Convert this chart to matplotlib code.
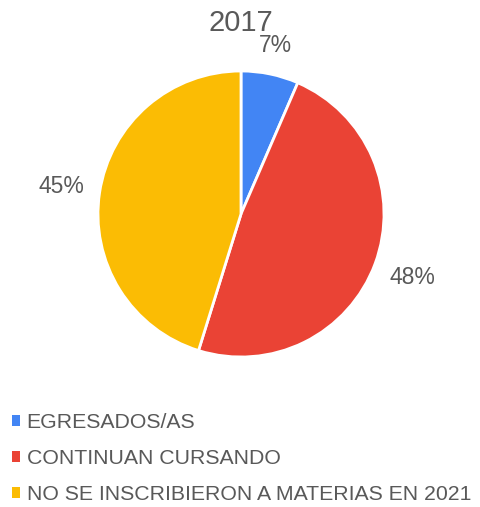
import numpy as np
import matplotlib
matplotlib.use("Agg")
import matplotlib.pyplot as plt

# data
categories = ["EGRESADOS/AS", "CONTINUAN CURSANDO", "NO SE INSCRIBIERON A MATERIAS EN 2021"]
shares = [6.5, 48.3, 45.2]
pct_labels = ["7%", "48%", "45%"]
colors = ["#4285F4", "#EA4335", "#FBBC04"]
title = "2017"

plt.rcParams['font.family'] = ['Liberation Sans', 'DejaVu Sans']
text_color = "#595959"

W, H = 480, 507
fig = plt.figure(figsize=(W / 100, H / 100), dpi=100)

# pie axes: centre at (241, 214) px from top-left, radius 143 px
cx, cy, r = 241, 214, 143
half = 200
ax = fig.add_axes([(cx - half) / W, (H - cy - half) / H, 2 * half / W, 2 * half / H])
wedges, texts = ax.pie(shares, colors=colors, startangle=90, counterclock=False,
                       labels=pct_labels, labeldistance=1.2,
                       wedgeprops=dict(edgecolor="white", linewidth=2),
                       textprops=dict(color=text_color, fontsize=16.5,
                                      family=['Liberation Sans Narrow', 'Liberation Sans']))
lim = half / r
ax.set_xlim(-lim, lim)
ax.set_ylim(-lim, lim)
ax.set_aspect("equal")
ax.axis("off")

# put each label a fixed gap outside the rim, like the spreadsheet does
fig.canvas.draw()
renderer = fig.canvas.get_renderer()
gap = 14 / r
for w, t in zip(wedges, texts):
    t.set_ha("center")
    t.set_va("center")
    ang = np.deg2rad((w.theta1 + w.theta2) / 2)
    bb = t.get_window_extent(renderer)
    hw, hh = bb.width / 2 / r, bb.height / 2 / r
    d = 1 + gap + abs(hw * np.cos(ang)) + abs(hh * np.sin(ang))
    t.set_position((d * np.cos(ang), d * np.sin(ang)))

fig.text(cx / W, 1 - 23 / H, title, ha="center", va="center", fontsize=21, color=text_color)

leg = fig.legend(wedges, categories, loc="upper left", bbox_to_anchor=(12 / W, 1 - 413 / H),
                 frameon=False, fontsize=15.3, handlelength=0.37, handleheight=0.37,
                 handletextpad=0.32, labelspacing=0.8, borderaxespad=0.0, borderpad=0.0)
for t in leg.get_texts():
    t.set_color(text_color)
for h in leg.legend_handles:
    h.set_edgecolor("none")

fig.savefig("out.png", dpi=100)
